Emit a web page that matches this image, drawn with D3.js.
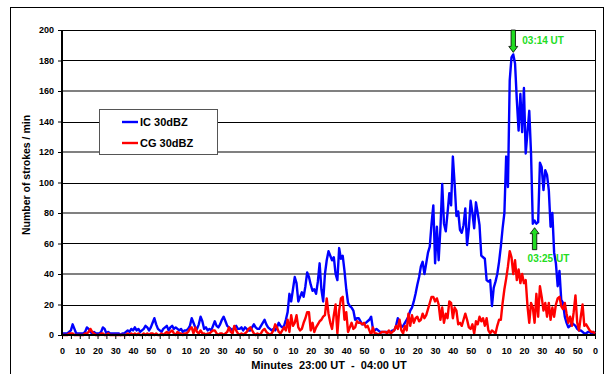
<!DOCTYPE html>
<html><head><meta charset="utf-8">
<script src="https://cdn.jsdelivr.net/npm/d3@7"></script>
<style>
body{margin:0;background:#fff}
svg{display:block}
text{font-family:"Liberation Sans",Arial,Helvetica,sans-serif;font-weight:bold}
</style>
</head><body>
<svg id="chart" width="607" height="374"></svg>
<script>
// ---- data (strokes per minute, 23:00 UT -> 04:00 UT) ----
const minutes = d3.range(0, 301);
const icValues = [
 1,1,1,1,2,3,7,4,1,1,
 1,1,1,2,5,4,2,1,2,1,
 1,1,2,5,4,1,2,1,1,1,
 1,1,1,0,1,1,2,3,2,4,
 3,5,3,4,2,3,4,6,5,3,
 5,8,11,7,4,3,2,4,5,6,
 3,5,6,4,5,4,3,4,2,3,
 3,4,6,11,8,5,4,7,12,9,
 4,5,3,4,3,6,9,6,5,7,
 10,12,9,6,5,4,3,5,6,4,
 4,5,3,5,4,3,3,5,7,5,
 4,4,6,8,10,7,5,4,3,4,
 3,5,8,6,5,6,10,15,27,22,
 30,38,34,22,25,28,25,32,41,38,
 33,29,30,27,35,47,30,22,40,49,
 55,52,49,51,40,36,57,50,52,42,
 30,21,19,18,16,10,11,11,9,7,
 7,8,9,10,12,4,3,4,3,2,
 2,2,2,2,2,2,3,3,6,11,
 8,5,6,8,10,12,16,18,22,27,
 33,38,45,48,40,47,54,58,73,85,
 47,71,49,70,99,73,68,80,93,85,
 117,99,78,81,69,67,72,83,59,70,
 88,80,70,87,80,72,52,51,50,36,
 35,36,19,31,35,40,48,58,70,80,
 117,97,167,182,184,178,154,134,158,133,
 162,119,133,147,119,73,75,73,74,113,
 110,95,108,105,95,71,80,54,47,32,
 42,23,21,12,8,5,6,8,7,6,
 4,3,3,2,1,1,2,2,1,2,
 1
];
const cgValues = [
 0,0,0,0,1,1,1,0,0,0,
 0,0,0,1,1,2,4,2,1,0,
 0,0,1,1,0,0,1,0,0,0,
 0,0,0,0,0,0,0,1,0,1,
 0,1,0,1,0,0,1,0,1,0,
 1,1,0,1,0,0,1,0,1,2,
 1,2,3,1,0,2,1,1,0,1,
 1,2,4,5,1,5,2,1,3,1,
 1,0,1,1,2,3,3,1,0,1,
 1,0,1,2,5,2,1,6,3,1,
 0,1,0,1,2,4,5,3,1,0,
 1,0,1,3,4,2,1,0,1,3,
 7,5,2,1,3,5,3,10,2,13,
 6,8,13,5,3,4,8,11,15,15,
 3,8,2,5,7,9,10,12,13,24,
 14,8,4,13,20,1,16,24,25,10,
 15,2,5,8,4,5,9,8,8,7,
 8,5,6,3,0,5,1,1,0,1,
 2,2,2,1,3,1,2,3,6,4,
 10,3,1,6,3,14,6,13,8,11,
 12,9,10,14,11,13,17,21,25,25,
 22,24,20,10,18,8,14,11,22,21,
 11,18,16,7,8,6,10,14,10,5,
 4,7,1,9,7,12,9,11,6,11,
 3,1,3,2,1,6,10,10,21,30,
 37,45,55,51,40,49,36,43,34,40,
 34,36,19,8,21,18,8,27,12,32,
 25,16,21,12,21,10,18,12,20,24,
 25,19,17,21,14,8,12,6,15,26,
 8,3,12,20,6,7,5,3,2,2,
 1
];
const seriesNames = ["IC 30dBZ", "CG 30dBZ"];
const seriesColors = ["#0000ff", "#ff0000"];
const yTickValues = [0,20,40,60,80,100,120,140,160,180,200];
const xTickMinutes = d3.range(0, 301, 5);
const annotationLabels = ["03:14 UT", "03:25 UT"];
const annotationMinutes = [254, 266];
const yTitle = "Number of strokes / min";
const xTitle = "Minutes  23:00 UT  -  04:00 UT";

// ---- layout ----
const svg = d3.select("#chart");
const L = 62, R = 595, T = 30, B = 335;
const x = d3.scaleLinear().domain([0, 300]).range([L, R]);
const y = d3.scaleLinear().domain([0, 200]).range([B, T]);

// outer frame
svg.append("rect").attr("x", 10.5).attr("y", 7.5).attr("width", 593).attr("height", 380)
  .attr("fill", "#fff").attr("stroke", "#000").attr("stroke-width", 1);

// gridlines (alternating black / grey)
yTickValues.slice(1).forEach((v) => {
  const grey = (v / 20) % 2 === 0 && v !== 200;
  const yy = Math.round(y(v)) + (grey ? 0 : 0.5);
  svg.append("line").attr("x1", L).attr("x2", R).attr("y1", yy).attr("y2", yy)
    .attr("stroke", grey ? "#808080" : "#000").attr("stroke-width", grey ? 2 : 1);
});
// right border
svg.append("line").attr("x1", R + 0.5).attr("x2", R + 0.5).attr("y1", T).attr("y2", B)
  .attr("stroke", "#000").attr("stroke-width", 1);

// series lines
const line = d3.line().x((d, i) => x(minutes[i])).y(d => y(d));
[icValues, cgValues].forEach((vals, k) => {
  svg.append("path").datum(vals).attr("d", line).attr("fill", "none")
    .attr("stroke", seriesColors[k]).attr("stroke-width", 2.4).attr("stroke-linejoin", "round");
});

// y axis
const yAxis = d3.axisLeft(y).tickValues(yTickValues).tickSize(4).tickPadding(4).tickFormat(d3.format("d"));
const gy = svg.append("g").attr("transform", `translate(${L},0)`).call(yAxis);
gy.select(".domain").remove();
gy.selectAll(".tick line").attr("stroke", "#000");
gy.selectAll(".tick text").attr("font-size", 9).attr("fill", "#000")
  .style("font-family", '"Liberation Sans",Arial,sans-serif').style("font-weight", "bold");
svg.append("line").attr("x1", L).attr("x2", L).attr("y1", T).attr("y2", B + 1)
  .attr("stroke", "#000").attr("stroke-width", 2);

// x axis
const xAxis = d3.axisBottom(x).tickValues(xTickMinutes).tickSize(4).tickPadding(9)
  .tickFormat(d => d % 10 === 0 ? String(d % 60) : "");
const gx = svg.append("g").attr("transform", `translate(0,${B})`).call(xAxis);
gx.select(".domain").remove();
gx.selectAll(".tick line").attr("stroke", "#000");
gx.selectAll(".tick text").attr("font-size", 9).attr("fill", "#000")
  .style("font-family", '"Liberation Sans",Arial,sans-serif').style("font-weight", "bold");
svg.append("line").attr("x1", L - 1).attr("x2", R + 1).attr("y1", B).attr("y2", B)
  .attr("stroke", "#000").attr("stroke-width", 2);

// axis titles
svg.append("text").attr("transform", "translate(30,175) rotate(-90)")
  .attr("text-anchor", "middle").attr("font-size", 10.5).text(yTitle);
svg.append("text").attr("x", 329).attr("y", 369).attr("text-anchor", "middle")
  .attr("font-size", 11).style("white-space", "pre").text(xTitle);

// legend
const lg = svg.append("g");
lg.append("rect").attr("x", 99.5).attr("y", 109.5).attr("width", 118).attr("height", 45)
  .attr("fill", "#fff").attr("stroke", "#555").attr("stroke-width", 1);
seriesNames.forEach((name, k) => {
  const ly = 122 + k * 21;
  lg.append("line").attr("x1", 122).attr("x2", 138).attr("y1", ly).attr("y2", ly)
    .attr("stroke", seriesColors[k]).attr("stroke-width", 2.4);
  lg.append("text").attr("x", 140).attr("y", ly + 4).attr("font-size", 11).text(name);
});

// annotations (green arrows)
const green = "#22dd22";
function arrow(cx, tipY, baseY, dir) {
  // dir = +1 arrow points down, -1 points up
  const hw = 4.5, sw = 2.2, hl = 6;
  const hb = tipY - dir * hl;
  return `M${cx},${tipY} L${cx - hw},${hb} L${cx - sw},${hb} L${cx - sw},${baseY} L${cx + sw},${baseY} L${cx + sw},${hb} L${cx + hw},${hb} Z`;
}
// 03:14 - peak, arrow from top of plot pointing down to the peak
const ax1 = x(annotationMinutes[0]);
const tip1 = y(icValues[annotationMinutes[0]]) - 2;
svg.append("path").attr("d", arrow(ax1, tip1, T, 1))
  .attr("fill", green).attr("stroke", "#000").attr("stroke-width", 0.8);
svg.append("text").attr("x", ax1 + 9).attr("y", 44).attr("font-size", 10)
  .attr("fill", green).text(annotationLabels[0]);
// 03:25 - minimum, arrow pointing up
const ax2 = x(annotationMinutes[1]);
const tip2 = y(icValues[annotationMinutes[1] - 1]) + 4;
svg.append("path").attr("d", arrow(ax2, tip2, tip2 + 22, -1))
  .attr("fill", green).attr("stroke", "#000").attr("stroke-width", 0.8);
svg.append("text").attr("x", ax2 - 7).attr("y", 262).attr("font-size", 10)
  .attr("fill", green).text(annotationLabels[1]);
</script>
</body></html>
